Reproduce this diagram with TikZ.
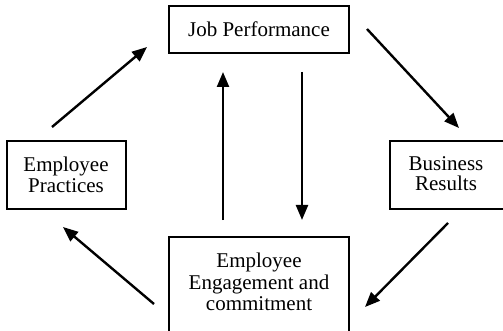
\documentclass[tikz,border=0pt]{standalone}
\usepackage{fontspec}
\setmainfont{Liberation Serif}
\usetikzlibrary{arrows.meta}
\begin{document}
\begin{tikzpicture}[x=1pt,y=-1pt,
  box/.style={draw,line width=2pt,inner sep=0pt,align=center,
    font=\fontsize{21}{21.5}\selectfont},
  conn/.style={line width=2.4pt,-{Triangle[length=15pt,width=12pt]}}]
\useasboundingbox (0,0) rectangle (503,331);
\clip (0,0) rectangle (503,331);
\node[box,minimum width=180pt,minimum height=47pt] (jp) at (259,29.5) {Job Performance};
\node[box,minimum width=119pt,minimum height=68pt] (ep) at (66,175) {Employee\\Practices};
\node[box,minimum width=124pt,minimum height=68pt,anchor=west] (br) at (389,175) {};
\node (brt) at (446,174) [font=\fontsize{21}{20}\selectfont,align=center,inner sep=0pt] {Business\\Results};
\node[box,minimum width=180pt,minimum height=110pt,anchor=north] (ee) at (259,236) {};
\node (eet) at (259,282) [font=\fontsize{21}{21.5}\selectfont,align=center,inner sep=0pt] {Employee\\Engagement and\\commitment};
\coordinate (a1s) at (52,127);  \coordinate (a1e) at (147,47);
\coordinate (a2s) at (367,29);  \coordinate (a2e) at (459,128);
\coordinate (a3s) at (223,220); \coordinate (a3e) at (223,72);
\coordinate (a4s) at (302,72);  \coordinate (a4e) at (302,220);
\coordinate (a5s) at (448,223); \coordinate (a5e) at (365,307);
\coordinate (a6s) at (154,304); \coordinate (a6e) at (63,227);
\draw[conn] (a1s) -- (a1e);
\draw[conn] (a2s) -- (a2e);
\draw[conn] (a3s) -- (a3e);
\draw[conn] (a4s) -- (a4e);
\draw[conn] (a5s) -- (a5e);
\draw[conn] (a6s) -- (a6e);
\end{tikzpicture}
\end{document}
